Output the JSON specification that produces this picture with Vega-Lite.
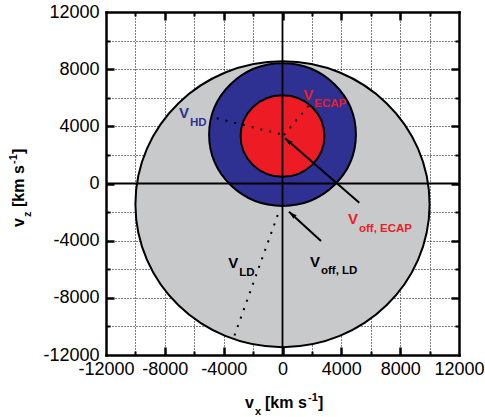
{
  "$schema": "https://vega.github.io/schema/vega-lite/v6.json",
  "width": 353,
  "height": 343,
  "autosize": {"type": "none"},
  "padding": {"left": 106, "top": 12, "right": 26, "bottom": 62},
  "background": "white",
  "config": {"view": {"stroke": null}, "font": "Liberation Sans"},
  "datasets": {
    "disks": [
      {"disk": "LD", "x": 0, "y": -1450, "r": 10000},
      {"disk": "HD", "x": 0, "y": 3420, "r": 4990},
      {"disk": "ECAP", "x": 0, "y": 3320, "r": 2850}
    ],
    "zero": [{"v": 0}],
    "radii": [
      {"id": "HD", "x": -4474, "y": 4562, "x2": 100, "y2": 3390},
      {"id": "ECAP", "x": 100, "y": 3390, "x2": 1754, "y2": 5423},
      {"id": "LD", "x": -326, "y": -2205, "x2": -3278, "y2": -10675}
    ],
    "arrows": [
      {"id": "offECAP", "x": 5222, "y": -1343, "x2": 170, "y2": 3163},
      {"id": "offLD", "x": 2618, "y": -4023, "x2": 442, "y2": -1973}
    ],
    "ann": [
      {"kind": "HD", "sub": "HD", "x": -7037, "y": 4562},
      {"kind": "ECAP", "sub": "ECAP", "x": 1414, "y": 5843},
      {"kind": "ECAP", "sub": "off, ECAP", "x": 4453, "y": -2855},
      {"kind": "LD", "sub": "off, LD", "x": 1870, "y": -5821},
      {"kind": "LD", "sub": "LD", "x": -3685, "y": -5933}
    ],
    "titles": [
      {"ax": "x", "sub": "x", "x": -2550, "y": -15729},
      {"ax": "z", "sub": "z", "x": -17575, "y": -3044}
    ]
  },
  "layer": [
    {
      "data": {"name": "disks"},
      "mark": {"type": "point", "filled": true, "opacity": 1, "fillOpacity": 1, "stroke": "black", "strokeWidth": 2,
        "shape": "M 1 0 C 1 0.5366 0.5523 0.9717 0 0.9717 C -0.5523 0.9717 -1 0.5366 -1 0 C -1 -0.5366 -0.5523 -0.9717 0 -0.9717 C 0.5523 -0.9717 1 -0.5366 1 0 Z"},
      "encoding": {
        "x": {"field": "x", "type": "quantitative", "scale": {"domain": [-12000, 12000], "nice": false, "zero": false},
          "axis": {"orient": "bottom", "values": [-12000, -8000, -4000, 0, 4000, 8000, 12000], "labelExpr": "toString(datum.value)", "ticks": false, "grid": false, "domain": true, "domainColor": "black", "domainWidth": 2.5, "domainCap": "square", "labelFont": "Liberation Sans", "labelFontSize": 18, "labelColor": "black", "labelPadding": 5, "labelFlush": false, "labelOverlap": false, "labelBound": false, "title": null, "zindex": 2}},
        "y": {"field": "y", "type": "quantitative", "scale": {"domain": [-12000, 12000], "nice": false, "zero": false},
          "axis": {"orient": "left", "values": [-12000, -8000, -4000, 0, 4000, 8000, 12000], "labelExpr": "toString(datum.value)", "ticks": false, "grid": false, "domain": true, "domainColor": "black", "domainWidth": 2.5, "domainCap": "square", "labelFont": "Liberation Sans", "labelFontSize": 18, "labelColor": "black", "labelPadding": 7, "labelFlush": false, "labelOverlap": false, "labelBound": false, "title": null, "zindex": 2}},
        "size": {"field": "r", "type": "quantitative", "scale": {"type": "pow", "exponent": 2, "domain": [0, 10000], "range": [0, 86535]}, "legend": null},
        "fill": {"field": "disk", "type": "nominal", "scale": {"domain": ["LD", "HD", "ECAP"], "range": ["#c8c9cb", "#2e3192", "#ed1c24"]}, "legend": null}
      }
    },
    {
      "data": {"name": "zero"},
      "mark": {"type": "rule", "color": "black", "strokeWidth": 1.8},
      "encoding": {"x": {"field": "v", "type": "quantitative", "axis": null}}
    },
    {
      "data": {"name": "zero"},
      "mark": {"type": "rule", "color": "black", "strokeWidth": 1.8},
      "encoding": {"y": {"field": "v", "type": "quantitative", "axis": null}}
    },
    {
      "data": {"name": "radii"},
      "mark": {"type": "rule", "color": "black", "strokeWidth": 2, "strokeDash": [2, 7]},
      "encoding": {
        "x": {"field": "x", "type": "quantitative", "axis": {"orient": "top", "labels": false, "ticks": false, "grid": false, "domain": true, "domainColor": "black", "domainWidth": 2.5, "domainCap": "square", "title": null, "zindex": 2}},
        "y": {"field": "y", "type": "quantitative", "axis": {"orient": "right", "labels": false, "ticks": false, "grid": false, "domain": true, "domainColor": "black", "domainWidth": 2.5, "domainCap": "square", "title": null, "zindex": 2}},
        "x2": {"field": "x2"},
        "y2": {"field": "y2"}
      }
    },
    {
      "data": {"name": "arrows"},
      "mark": {"type": "rule", "color": "black", "strokeWidth": 2},
      "encoding": {
        "x": {"field": "x", "type": "quantitative", "axis": {"orient": "bottom", "values": [-8000, -4000, 0, 4000, 8000], "labels": false, "domain": false, "grid": false, "ticks": true, "tickSize": 8, "offset": -8, "tickColor": "black", "tickWidth": 2.5, "title": null, "zindex": 2}},
        "y": {"field": "y", "type": "quantitative", "axis": {"orient": "left", "values": [-8000, -4000, 0, 4000, 8000], "labels": false, "domain": false, "grid": false, "ticks": true, "tickSize": 8, "offset": -8, "tickColor": "black", "tickWidth": 2.5, "title": null, "zindex": 2}},
        "x2": {"field": "x2"},
        "y2": {"field": "y2"}
      }
    },
    {
      "data": {"name": "arrows"},
      "mark": {"type": "point", "filled": true, "opacity": 1, "color": "black", "size": 64, "angle": 311, "shape": "M 0 0 L -0.6 2 L 0.6 2 Z"},
      "encoding": {
        "x": {"field": "x2", "type": "quantitative", "axis": {"orient": "top", "values": [-8000, -4000, 0, 4000, 8000], "labels": false, "domain": false, "grid": false, "ticks": true, "tickSize": 8, "offset": -8, "tickColor": "black", "tickWidth": 2.5, "title": null, "zindex": 2}},
        "y": {"field": "y2", "type": "quantitative", "axis": {"orient": "right", "values": [-8000, -4000, 0, 4000, 8000], "labels": false, "domain": false, "grid": false, "ticks": true, "tickSize": 8, "offset": -8, "tickColor": "black", "tickWidth": 2.5, "title": null, "zindex": 2}}
      }
    },
    {
      "data": {"name": "ann"},
      "mark": {"type": "text", "text": "V", "font": "Liberation Sans", "fontWeight": "bold", "fontSize": 15, "align": "left", "baseline": "alphabetic"},
      "encoding": {
        "x": {"field": "x", "type": "quantitative", "axis": {"orient": "bottom", "values": [-10000, -6000, -2000, 2000, 6000, 10000], "labels": false, "domain": false, "grid": false, "ticks": true, "tickSize": 4, "offset": -4, "tickColor": "black", "tickWidth": 2, "title": null, "zindex": 2}},
        "y": {"field": "y", "type": "quantitative", "axis": {"orient": "left", "values": [-10000, -6000, -2000, 2000, 6000, 10000], "labels": false, "domain": false, "grid": false, "ticks": true, "tickSize": 4, "offset": -4, "tickColor": "black", "tickWidth": 2, "title": null, "zindex": 2}},
        "color": {"field": "kind", "type": "nominal", "scale": {"domain": ["HD", "ECAP", "LD"], "range": ["#2e3192", "#ed1c24", "#000000"]}, "legend": null}
      }
    },
    {
      "data": {"name": "ann"},
      "mark": {"type": "text", "font": "Liberation Sans", "fontWeight": "bold", "fontSize": 11.5, "align": "left", "baseline": "alphabetic", "dx": 11, "dy": 7.5},
      "encoding": {
        "text": {"field": "sub"},
        "x": {"field": "x", "type": "quantitative", "axis": {"orient": "top", "values": [-10000, -6000, -2000, 2000, 6000, 10000], "labels": false, "domain": false, "grid": false, "ticks": true, "tickSize": 4, "offset": -4, "tickColor": "black", "tickWidth": 2, "title": null, "zindex": 2}},
        "y": {"field": "y", "type": "quantitative", "axis": {"orient": "right", "values": [-10000, -6000, -2000, 2000, 6000, 10000], "labels": false, "domain": false, "grid": false, "ticks": true, "tickSize": 4, "offset": -4, "tickColor": "black", "tickWidth": 2, "title": null, "zindex": 2}},
        "color": {"field": "kind", "type": "nominal", "legend": null}
      }
    },
    {
      "data": {"name": "titles"},
      "transform": [{"filter": "datum.ax == 'x'"}],
      "mark": {"type": "text", "text": "v", "font": "Liberation Sans", "fontWeight": "bold", "fontSize": 16, "align": "left", "baseline": "alphabetic", "color": "black"},
      "encoding": {
        "x": {"field": "x", "type": "quantitative", "axis": {"orient": "bottom", "values": [-10000, -8000, -6000, -4000, -2000, 2000, 4000, 6000, 8000, 10000], "grid": true, "gridColor": "black", "gridDash": [1, 2], "gridWidth": 1, "gridOpacity": 1, "labels": false, "ticks": false, "domain": false, "title": null, "zindex": 0}},
        "y": {"field": "y", "type": "quantitative", "axis": {"orient": "left", "values": [-10000, -8000, -6000, -4000, -2000, 2000, 4000, 6000, 8000, 10000], "grid": true, "gridColor": "black", "gridDash": [1, 2], "gridWidth": 1, "gridOpacity": 1, "labels": false, "ticks": false, "domain": false, "title": null, "zindex": 0}}
      }
    },
    {
      "data": {"name": "titles"},
      "transform": [{"filter": "datum.ax == 'x'"}],
      "mark": {"type": "text", "font": "Liberation Sans", "fontWeight": "bold", "fontSize": 11, "align": "left", "baseline": "alphabetic", "color": "black", "dx": 10, "dy": 7},
      "encoding": {"text": {"field": "sub"}, "x": {"field": "x", "type": "quantitative", "axis": null}, "y": {"field": "y", "type": "quantitative", "axis": null}}
    },
    {
      "data": {"name": "titles"},
      "transform": [{"filter": "datum.ax == 'x'"}],
      "mark": {"type": "text", "text": "[km s", "font": "Liberation Sans", "fontWeight": "bold", "fontSize": 16, "align": "left", "baseline": "alphabetic", "color": "black", "dx": 20},
      "encoding": {"x": {"field": "x", "type": "quantitative", "axis": null}, "y": {"field": "y", "type": "quantitative", "axis": null}}
    },
    {
      "data": {"name": "titles"},
      "transform": [{"filter": "datum.ax == 'x'"}],
      "mark": {"type": "text", "text": "-1", "font": "Liberation Sans", "fontWeight": "bold", "fontSize": 11, "align": "left", "baseline": "alphabetic", "color": "black", "dx": 63, "dy": -7},
      "encoding": {"x": {"field": "x", "type": "quantitative", "axis": null}, "y": {"field": "y", "type": "quantitative", "axis": null}}
    },
    {
      "data": {"name": "titles"},
      "transform": [{"filter": "datum.ax == 'x'"}],
      "mark": {"type": "text", "text": "]", "font": "Liberation Sans", "fontWeight": "bold", "fontSize": 16, "align": "left", "baseline": "alphabetic", "color": "black", "dx": 73},
      "encoding": {"x": {"field": "x", "type": "quantitative", "axis": null}, "y": {"field": "y", "type": "quantitative", "axis": null}}
    },
    {
      "data": {"name": "titles"},
      "transform": [{"filter": "datum.ax == 'z'"}],
      "mark": {"type": "text", "text": "v", "angle": 270, "font": "Liberation Sans", "fontWeight": "bold", "fontSize": 16, "align": "left", "baseline": "alphabetic", "color": "black"},
      "encoding": {"x": {"field": "x", "type": "quantitative", "axis": null}, "y": {"field": "y", "type": "quantitative", "axis": null}}
    },
    {
      "data": {"name": "titles"},
      "transform": [{"filter": "datum.ax == 'z'"}],
      "mark": {"type": "text", "angle": 270, "font": "Liberation Sans", "fontWeight": "bold", "fontSize": 11, "align": "left", "baseline": "alphabetic", "color": "black", "dx": 10, "dy": 7},
      "encoding": {"text": {"field": "sub"}, "x": {"field": "x", "type": "quantitative", "axis": null}, "y": {"field": "y", "type": "quantitative", "axis": null}}
    },
    {
      "data": {"name": "titles"},
      "transform": [{"filter": "datum.ax == 'z'"}],
      "mark": {"type": "text", "text": "[km s", "angle": 270, "font": "Liberation Sans", "fontWeight": "bold", "fontSize": 16, "align": "left", "baseline": "alphabetic", "color": "black", "dx": 20},
      "encoding": {"x": {"field": "x", "type": "quantitative", "axis": null}, "y": {"field": "y", "type": "quantitative", "axis": null}}
    },
    {
      "data": {"name": "titles"},
      "transform": [{"filter": "datum.ax == 'z'"}],
      "mark": {"type": "text", "text": "-1", "angle": 270, "font": "Liberation Sans", "fontWeight": "bold", "fontSize": 11, "align": "left", "baseline": "alphabetic", "color": "black", "dx": 63, "dy": -7},
      "encoding": {"x": {"field": "x", "type": "quantitative", "axis": null}, "y": {"field": "y", "type": "quantitative", "axis": null}}
    },
    {
      "data": {"name": "titles"},
      "transform": [{"filter": "datum.ax == 'z'"}],
      "mark": {"type": "text", "text": "]", "angle": 270, "font": "Liberation Sans", "fontWeight": "bold", "fontSize": 16, "align": "left", "baseline": "alphabetic", "color": "black", "dx": 73},
      "encoding": {"x": {"field": "x", "type": "quantitative", "axis": null}, "y": {"field": "y", "type": "quantitative", "axis": null}}
    }
  ],
  "resolve": {"axis": {"x": "independent", "y": "independent"}}
}
